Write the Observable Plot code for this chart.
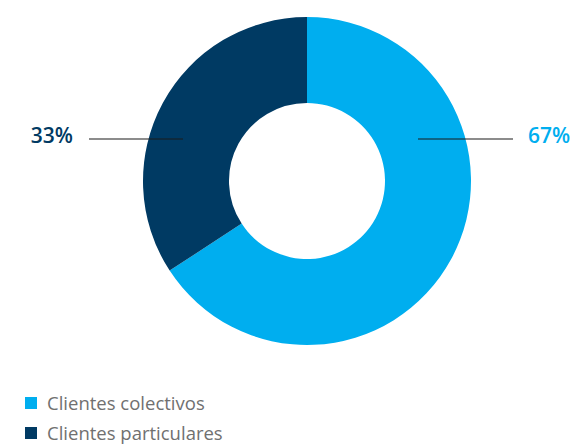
<!DOCTYPE html>
<html><head><meta charset="utf-8">
<script src="https://cdn.jsdelivr.net/npm/d3@7"></script>
<script src="https://cdn.jsdelivr.net/npm/@observablehq/plot@0.6"></script>
<style>
body{margin:0;background:#fff;font-family:'Open Sans',sans-serif}
#legend{margin-top:8px}
.row{display:flex;align-items:center;height:30px}
.sw{width:12px;height:12px;margin-left:25px;margin-right:10px;flex:none}
.lt{font-size:18.5px;line-height:1;color:#707070;font-weight:400;white-space:nowrap}
</style>
</head><body><div id="chart"></div><div id="legend"></div>
<script>
const categories = ["Clientes colectivos", "Clientes particulares"];
const values = [65.8, 34.2];
const labels = ["67%", "33%"];
const colors = ["#00AEEF", "#003A63"];
const sides = ["right", "left"];

const data = categories.map((c, i) => ({category: c, value: values[i], label: labels[i], side: sides[i]}));
const color = Plot.scale({color: {domain: categories, range: colors}});

// layout
const W = 574, H = 380, CX = 307, CY = 181, R0 = 78, R1 = 164, LY = -42;
const callout = {right: {inner: 111, outer: 206, text: 221}, left: {inner: 124, outer: 218, text: 234}};

function donut(index, scales, channels, dimensions) {
  const g = d3.create("svg:g").attr("transform", `translate(${CX},${CY})`);
  const arcs = d3.pie().sort(null).value(d => d.value)(data);
  const arc = d3.arc().innerRadius(R0).outerRadius(R1);
  g.selectAll("path").data(arcs).join("path")
    .attr("d", arc).attr("fill", d => color.apply(d.data.category));
  for (const d of data) {
    const s = d.side === "right" ? 1 : -1, c = callout[d.side];
    g.append("line").attr("x1", s * c.inner).attr("x2", s * c.outer)
      .attr("y1", LY).attr("y2", LY).attr("stroke", "#1a1a1a").attr("stroke-width", 1.2);
    g.append("text").attr("x", s * c.text).attr("y", LY + 4)
      .attr("text-anchor", s > 0 ? "start" : "end")
      .attr("font-family", "'Open Sans',sans-serif").attr("font-weight", 600)
      .attr("font-size", 21).attr("fill", color.apply(d.category)).text(d.label);
  }
  return g.node();
}

const chart = Plot.plot({
  width: W, height: H, margin: 0,
  x: {axis: null}, y: {axis: null},
  marks: [donut]
});
document.getElementById("chart").appendChild(chart);

const legend = d3.select("#legend");
for (const c of categories) {
  const row = legend.append("div").attr("class", "row");
  row.append("div").attr("class", "sw").style("background", color.apply(c));
  row.append("div").attr("class", "lt").text(c);
}
</script>
</body></html>
